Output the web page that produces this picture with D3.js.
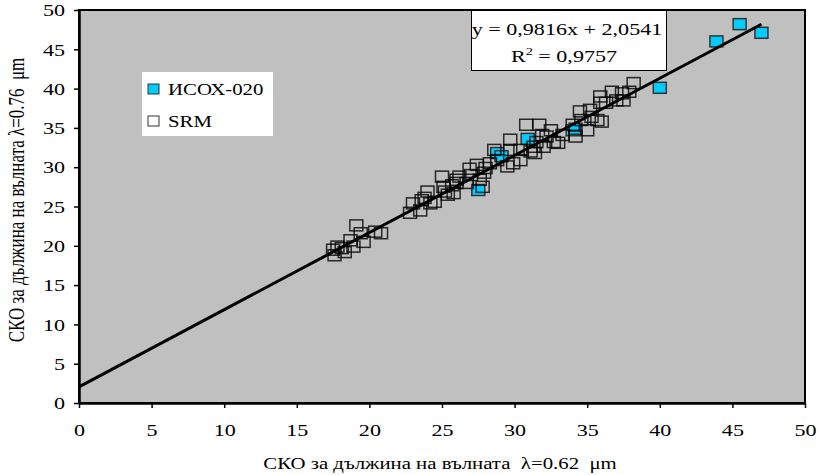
<!DOCTYPE html>
<html>
<head>
<meta charset="utf-8">
<script src="https://cdn.jsdelivr.net/npm/d3@7"></script>
<style>
  body { margin: 0; background: #fff; }
  text { font-family: "Liberation Serif", "Times New Roman", serif; fill: #000; }
</style>
</head>
<body>
<div id="chart"></div>
<script>
// ИСОХ-020 series (x = λ 0.62 µm, y = λ 0.76 µm)
const isoxPoints = [
    [27.5, 27.1], [28.8, 31.8], [29.1, 31.4], [30.9, 33.6], [34.0, 34.7],
    [34.2, 34.9], [40.0, 40.1], [43.9, 46.0], [45.5, 48.2], [47.0, 47.1]
];

// SRM series
const srmPoints = [
    [17.5, 19.5], [17.6, 18.8], [17.8, 19.9], [18.1, 19.7], [18.3, 19.2],
    [18.7, 20.7], [18.9, 19.9], [19.1, 22.6], [19.4, 21.6], [19.6, 20.5],
    [20.4, 21.8], [20.8, 21.6],
    [22.8, 24.2], [23.0, 25.4], [23.5, 24.5], [23.6, 25.8], [23.8, 26.1],
    [24.0, 26.9], [24.2, 25.4], [24.5, 25.6], [25.0, 28.8], [25.1, 27.5],
    [25.2, 26.9], [25.4, 26.5], [25.7, 27.7], [25.8, 26.7], [26.0, 28.0],
    [26.0, 28.4], [26.2, 28.8], [26.7, 28.0], [26.9, 29.8], [27.0, 29.0],
    [27.4, 30.3], [27.6, 28.4], [27.8, 27.5], [27.9, 29.3], [28.0, 29.9],
    [28.3, 30.5], [28.6, 32.2], [28.8, 30.9],
    [29.5, 30.1], [29.7, 33.5], [29.7, 32.2], [29.9, 30.5], [30.4, 32.2],
    [30.4, 30.9], [30.8, 35.4], [31.1, 32.0], [31.3, 32.6], [31.4, 31.8],
    [31.5, 33.2], [31.7, 35.4], [31.9, 34.1], [32.0, 32.6], [32.2, 33.9],
    [32.5, 34.7], [32.7, 33.2], [33.0, 33.1], [33.3, 34.1],
    [34.0, 35.4], [34.2, 33.9], [34.5, 37.1], [34.6, 36.0], [35.0, 34.7],
    [35.2, 37.3], [35.3, 36.4], [35.7, 36.0], [35.9, 39.0], [35.9, 38.2],
    [36.0, 35.8], [36.3, 38.2], [36.7, 39.6], [37.0, 38.5], [37.4, 39.4],
    [37.5, 38.5], [37.9, 39.6], [38.2, 40.7]
];

// linear trend
const trendSlope = 0.9816;
const trendIntercept = 2.0541;
const trendRange = [0, 47];

const axisTicks = [0, 5, 10, 15, 20, 25, 30, 35, 40, 45, 50];
const legendLabels = ['ИСОХ-020', 'SRM'];

const width = 821, height = 475;
const plot = { left: 79, right: 805, top: 10, bottom: 403 };
const stretch = 1.3;  // text in the picture is widened

const svg = d3.select('#chart').append('svg')
    .attr('width', width)
    .attr('height', height);

const x = d3.scaleLinear().domain([0, 50]).range([plot.left, plot.right]);
const y = d3.scaleLinear().domain([0, 50]).range([plot.bottom, plot.top]);

// plot area
svg.append('rect')
    .attr('x', plot.left)
    .attr('y', plot.top)
    .attr('width', plot.right - plot.left)
    .attr('height', plot.bottom - plot.top)
    .style('fill', '#c0c0c0')
    .style('stroke', '#000')
    .style('stroke-width', 2);

// axes
const xAxis = svg.append('g')
    .attr('transform', `translate(0,${plot.bottom})`)
    .call(d3.axisBottom(x).tickValues(axisTicks).tickSizeInner(5).tickSizeOuter(0));

const yAxis = svg.append('g')
    .attr('transform', `translate(${plot.left},0)`)
    .call(d3.axisLeft(y).tickValues(axisTicks).tickSizeInner(5).tickSizeOuter(0));

[xAxis, yAxis].forEach(a => {
    a.select('.domain').style('stroke', '#000').style('stroke-width', 2.5);
    a.selectAll('.tick line').style('stroke', '#000').style('stroke-width', 1.5);
    a.selectAll('.tick text')
        .style('font-family', '"Liberation Serif", serif')
        .style('font-size', '17px');
});

xAxis.selectAll('.tick text')
    .attr('y', 33)
    .attr('dy', 0)
    .attr('transform', `scale(${stretch},1)`);

yAxis.selectAll('.tick text')
    .attr('x', -14 / stretch)
    .attr('dy', '0.34em')
    .attr('transform', `scale(${stretch},1)`);

// points: ИСОХ-020 first, SRM over it
const markW = 13, markH = 11;

svg.append('g').selectAll('rect')
    .data(isoxPoints)
    .enter()
    .append('rect')
    .attr('x', d => x(d[0]) - markW / 2)
    .attr('y', d => y(d[1]) - markH / 2)
    .attr('width', markW)
    .attr('height', markH)
    .style('fill', '#00ccff')
    .style('stroke', '#333')
    .style('stroke-width', 1.5);

svg.append('g').selectAll('rect')
    .data(srmPoints)
    .enter()
    .append('rect')
    .attr('x', d => x(d[0]) - markW / 2)
    .attr('y', d => y(d[1]) - markH / 2)
    .attr('width', markW)
    .attr('height', markH)
    .style('fill', 'none')
    .style('stroke', '#000')
    .style('stroke-opacity', 0.8)
    .style('stroke-width', 1.5);

// trend line
svg.append('line')
    .attr('x1', x(trendRange[0]))
    .attr('y1', y(trendSlope * trendRange[0] + trendIntercept))
    .attr('x2', x(trendRange[1]))
    .attr('y2', y(trendSlope * trendRange[1] + trendIntercept))
    .style('stroke', '#000')
    .style('stroke-width', 3);

// helper for widened text
function wideText(parent, px, py, str, size, anchor) {
    const g = parent.append('g').attr('transform', `translate(${px},${py}) scale(${stretch},1)`);
    return g.append('text')
        .attr('text-anchor', anchor || 'start')
        .style('font-size', size + 'px')
        .style('white-space', 'pre')
        .text(str);
}

// equation box
svg.append('rect')
    .attr('x', 471.5)
    .attr('y', 10.5)
    .attr('width', 195)
    .attr('height', 60)
    .style('fill', '#fff')
    .style('stroke', '#000')
    .style('stroke-width', 1);

wideText(svg, 567, 35, `y = ${String(trendSlope).replace('.', ',')}x + ${String(trendIntercept).replace('.', ',')}`, 17, 'middle');
const r2 = wideText(svg, 564, 62, '', 17, 'middle');
r2.append('tspan').text('R');
r2.append('tspan').attr('dy', -7).style('font-size', '11px').text('2');
r2.append('tspan').attr('dy', 7).text(' = 0,9757');

// legend
svg.append('rect')
    .attr('x', 142)
    .attr('y', 72)
    .attr('width', 131)
    .attr('height', 64)
    .style('fill', '#fff');

svg.append('rect')
    .attr('x', 148).attr('y', 84).attr('width', 11).attr('height', 10)
    .style('fill', '#00ccff').style('stroke', '#333').style('stroke-width', 1);
svg.append('rect')
    .attr('x', 148).attr('y', 116).attr('width', 11).attr('height', 10)
    .style('fill', '#fff').style('stroke', '#333').style('stroke-width', 1);

wideText(svg, 168, 95, legendLabels[0], 16);
wideText(svg, 168, 127, legendLabels[1], 16);

// axis titles
wideText(svg, 440, 469, 'СКО за дължина на вълната  λ=0.62  μm', 16, 'middle');

svg.append('g')
    .attr('transform', `translate(24,200) rotate(-90) scale(1,${stretch})`)
    .append('text')
    .attr('text-anchor', 'middle')
    .style('font-size', '17px')
    .style('white-space', 'pre')
    .text('СКО за дължина на вълната λ=0.76  μm');
</script>
</body>
</html>
